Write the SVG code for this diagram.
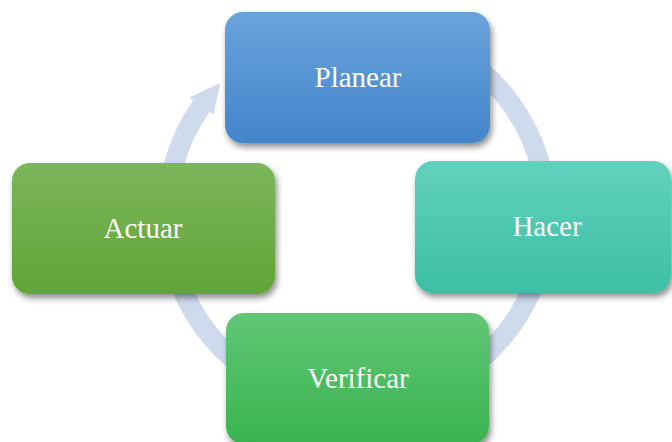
<svg xmlns="http://www.w3.org/2000/svg" width="672" height="442" viewBox="0 0 672 442">
<style>
.arc{fill:none;stroke:#cfdbed;stroke-width:20}
.head{fill:#cfdbed}
.box{filter:url(#sh)}
.lbl{font-family:"Liberation Serif","Times New Roman",serif;font-size:29px;fill:#ffffff;text-anchor:middle}
</style>
<defs>
<filter id="sh" x="-20%" y="-20%" width="140%" height="150%">
<feDropShadow dx="2" dy="4" stdDeviation="3" flood-color="#000" flood-opacity="0.45"/>
</filter>
<linearGradient id="gBlue" x1="0" y1="0" x2="0" y2="1"><stop offset="0" stop-color="#6aa3dc"/><stop offset="1" stop-color="#4385ca"/></linearGradient>
<linearGradient id="gTeal" x1="0" y1="0" x2="0" y2="1"><stop offset="0" stop-color="#62d1bd"/><stop offset="1" stop-color="#3cbfa5"/></linearGradient>
<linearGradient id="gOlive" x1="0" y1="0" x2="0" y2="1"><stop offset="0" stop-color="#7bb65b"/><stop offset="1" stop-color="#62a436"/></linearGradient>
<linearGradient id="gGreen" x1="0" y1="0" x2="0" y2="1"><stop offset="0" stop-color="#62c676"/><stop offset="1" stop-color="#39b44f"/></linearGradient>
</defs>
<rect width="672" height="442" fill="#ffffff"/>
<g id="connectors">
<path class="arc" d="M167.7,231.6 A190,190 0 0 1 201.4,106"/>
<polygon class="head" points="189.1,97.4 220.3,83 213.6,114.6"/>
<path class="arc" d="M452,50.5 A190,190 0 0 1 544.1,182"/>
<path class="arc" d="M544.1,248 A190,190 0 0 1 452,379.5"/>
<path class="arc" d="M262,379.5 A190,190 0 0 1 169.9,248"/>
</g>
<g id="planear">
<rect class="box" x="225" y="12" width="265" height="131" rx="18" fill="url(#gBlue)"/>
<text class="lbl" x="358" y="87">Planear</text>
</g>
<g id="hacer">
<rect class="box" x="415" y="161" width="256" height="132" rx="18" fill="url(#gTeal)"/>
<text class="lbl" x="547" y="236">Hacer</text>
</g>
<g id="actuar">
<rect class="box" x="12" y="163" width="263" height="131" rx="18" fill="url(#gOlive)"/>
<text class="lbl" x="143" y="238">Actuar</text>
</g>
<g id="verificar">
<rect class="box" x="226" y="313" width="263" height="131" rx="18" fill="url(#gGreen)"/>
<text class="lbl" x="358" y="388">Verificar</text>
</g>
</svg>
